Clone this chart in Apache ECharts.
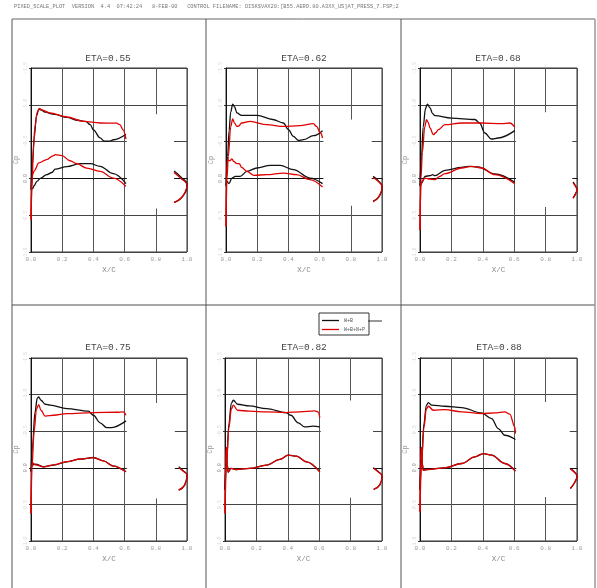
<!DOCTYPE html>
<html><head><meta charset="utf-8">
<script src="https://cdn.jsdelivr.net/npm/echarts@6/dist/echarts.min.js"></script>
<style>html,body{margin:0;padding:0;background:#fff}#c{width:597px;height:588px}</style>
</head><body><div id="c"></div><script>
// ---------- data ----------
const etaTitles = ['ETA=0.55','ETA=0.62','ETA=0.68','ETA=0.75','ETA=0.82','ETA=0.88'];
const seriesNames = ['W+B','W+B+N+P'];
const xTickLabels = ['0.0','0.2','0.4','0.6','0.8','1.0'];
const yTickValues = [-1.5,-1.0,-0.5,0.0,0.5,1.0];

// ETA=0.55
const e055_WB_upper = [[0,0.15],[0.01,-0.2],[0.02,-0.55],[0.035,-0.85],[0.05,-0.94],[0.065,-0.93],[0.09,-0.9],[0.15,-0.87],[0.23,-0.83],[0.3,-0.79],[0.35,-0.775],[0.38,-0.73],[0.4,-0.66],[0.443,-0.55],[0.47,-0.505],[0.5,-0.505],[0.53,-0.525],[0.609,-0.6]];
const e055_WB_lower = [[0,0.15],[0.01,0.14],[0.02,0.1],[0.038,0.04],[0.06,0.0],[0.1,-0.05],[0.134,-0.08],[0.155,-0.125],[0.23,-0.16],[0.315,-0.2],[0.38,-0.2],[0.443,-0.164],[0.528,-0.064],[0.609,0.07]];
const e055_WB_te = [[0.917,-0.1],[0.96,-0.02],[1.0,0.085],[0.97,0.25],[0.917,0.325]];
const e055_WBNP_upper = [[0,0.56],[0.008,0.0],[0.015,-0.4],[0.025,-0.7],[0.04,-0.9],[0.055,-0.95],[0.07,-0.93],[0.12,-0.89],[0.23,-0.834],[0.336,-0.775],[0.443,-0.753],[0.549,-0.75],[0.57,-0.73],[0.59,-0.66],[0.609,-0.535]];
const e055_WBNP_lower = [[0,0.56],[0.005,0.1],[0.01,-0.05],[0.02,-0.1],[0.05,-0.21],[0.1,-0.255],[0.145,-0.31],[0.155,-0.322],[0.198,-0.31],[0.25,-0.24],[0.294,-0.2],[0.357,-0.14],[0.443,-0.096],[0.528,-0.005],[0.609,0.108]];
const e055_WBNP_te = [[0.917,-0.08],[0.96,0.0],[1.0,0.09],[0.985,0.2],[0.96,0.27],[0.917,0.33]];

// ETA=0.62
const e062_WB_upper = [[0,0.1],[0.01,-0.3],[0.02,-0.65],[0.03,-0.9],[0.043,-1.01],[0.055,-0.97],[0.07,-0.89],[0.1,-0.855],[0.2,-0.857],[0.3,-0.8],[0.368,-0.753],[0.4,-0.662],[0.432,-0.571],[0.464,-0.517],[0.496,-0.526],[0.56,-0.58],[0.619,-0.649]];
const e062_WB_lower = [[0,0.1],[0.006,0.04],[0.019,0.071],[0.038,-0.005],[0.06,-0.028],[0.091,-0.028],[0.134,-0.096],[0.198,-0.141],[0.283,-0.177],[0.347,-0.177],[0.432,-0.119],[0.538,-0.005],[0.619,0.071]];
const e062_WB_te = [[0.943,-0.028],[0.975,0.03],[1.0,0.108],[0.98,0.25],[0.943,0.31]];
const e062_WBNP_upper = [[0,0.65],[0.006,0.0],[0.015,-0.3],[0.03,-0.7],[0.043,-0.807],[0.055,-0.75],[0.07,-0.707],[0.08,-0.71],[0.1,-0.753],[0.155,-0.775],[0.262,-0.73],[0.368,-0.707],[0.474,-0.716],[0.56,-0.744],[0.58,-0.707],[0.606,-0.617],[0.619,-0.549]];
const e062_WBNP_lower = [[0,0.65],[0.004,-0.1],[0.01,-0.25],[0.025,-0.24],[0.038,-0.264],[0.049,-0.232],[0.07,-0.2],[0.085,-0.2],[0.1,-0.15],[0.134,-0.096],[0.177,-0.042],[0.262,-0.05],[0.368,-0.073],[0.453,-0.05],[0.538,0.017],[0.619,0.117]];
const e062_WBNP_te = [[0.943,-0.01],[0.975,0.04],[1.0,0.115],[0.985,0.23],[0.943,0.32]];

// ETA=0.68
const e068_WB_upper = [[0,0.1],[0.01,-0.3],[0.02,-0.7],[0.035,-0.95],[0.047,-1.01],[0.064,-0.957],[0.08,-0.88],[0.095,-0.852],[0.2,-0.82],[0.35,-0.8],[0.38,-0.753],[0.413,-0.617],[0.455,-0.535],[0.498,-0.549],[0.604,-0.649]];
const e068_WB_lower = [[0,0.1],[0.011,0.062],[0.032,-0.028],[0.064,-0.037],[0.08,-0.05],[0.095,-0.037],[0.159,-0.11],[0.265,-0.15],[0.307,-0.164],[0.37,-0.155],[0.477,-0.06],[0.604,0.053]];
const e068_WB_te = [[0.975,0.049],[0.99,0.1],[1.0,0.153],[0.99,0.21],[0.975,0.266]];
const e068_WBNP_upper = [[0,0.7],[0.006,0.0],[0.015,-0.35],[0.03,-0.7],[0.042,-0.798],[0.052,-0.76],[0.064,-0.685],[0.085,-0.594],[0.1,-0.62],[0.117,-0.662],[0.159,-0.73],[0.265,-0.753],[0.39,-0.753],[0.519,-0.744],[0.572,-0.753],[0.604,-0.698]];
const e068_WBNP_lower = [[0,0.7],[0.005,0.1],[0.015,0.03],[0.032,-0.005],[0.064,0.008],[0.095,0.017],[0.12,-0.02],[0.159,-0.064],[0.265,-0.141],[0.328,-0.164],[0.392,-0.141],[0.477,-0.05],[0.604,0.071]];
const e068_WBNP_te = [[0.975,0.06],[0.99,0.105],[1.0,0.155],[0.99,0.215],[0.975,0.27]];

// ETA=0.75
const e075_WB_upper = [[0,0.05],[0.01,-0.3],[0.025,-0.75],[0.04,-0.95],[0.049,-0.968],[0.064,-0.923],[0.091,-0.868],[0.123,-0.855],[0.23,-0.809],[0.368,-0.773],[0.4,-0.718],[0.443,-0.614],[0.485,-0.55],[0.517,-0.55],[0.609,-0.641]];
const e075_WB_lower = [[0,0.05],[0.006,-0.036],[0.028,-0.05],[0.081,-0.014],[0.145,-0.036],[0.23,-0.082],[0.315,-0.118],[0.4,-0.141],[0.464,-0.095],[0.528,-0.023],[0.609,0.055]];
const e075_WB_te = [[0.947,-0.014],[0.975,0.04],[1.0,0.1],[0.985,0.236],[0.947,0.305]];
const e075_WBNP_upper = [[0,0.623],[0.006,0.0],[0.02,-0.5],[0.035,-0.8],[0.049,-0.864],[0.064,-0.786],[0.091,-0.705],[0.145,-0.718],[0.23,-0.741],[0.4,-0.755],[0.549,-0.759],[0.591,-0.764],[0.609,-0.718]];
const e075_WBNP_lower = [[0,0.623],[0.004,0.0],[0.01,-0.068],[0.028,-0.04],[0.081,-0.01],[0.145,-0.04],[0.23,-0.085],[0.315,-0.12],[0.4,-0.14],[0.464,-0.095],[0.528,-0.023],[0.609,0.055]];
const e075_WBNP_te = [[0.947,0.0],[0.975,0.045],[1.0,0.1],[0.985,0.236],[0.947,0.305]];

// ETA=0.82
const e082_WB_upper = [[0,0.3],[0.01,-0.1],[0.025,-0.6],[0.04,-0.88],[0.053,-0.923],[0.08,-0.868],[0.155,-0.845],[0.265,-0.809],[0.388,-0.755],[0.42,-0.718],[0.466,-0.614],[0.508,-0.559],[0.561,-0.568],[0.604,-0.559]];
const e082_WB_lower = [[0,0.3],[0.004,-0.05],[0.008,-0.28],[0.014,-0.05],[0.02,0.06],[0.038,0.009],[0.07,0.023],[0.155,0.009],[0.265,-0.036],[0.35,-0.114],[0.403,-0.173],[0.455,-0.159],[0.519,-0.082],[0.604,0.055]];
const e082_WB_te = [[0.943,0.0],[0.975,0.05],[1.0,0.114],[0.985,0.236],[0.947,0.295]];
const e082_WBNP_upper = [[0,0.623],[0.008,0.0],[0.025,-0.55],[0.04,-0.8],[0.053,-0.855],[0.08,-0.786],[0.155,-0.773],[0.265,-0.764],[0.388,-0.755],[0.477,-0.764],[0.572,-0.777],[0.593,-0.764],[0.604,-0.686]];
const e082_WBNP_lower = [[0,0.623],[0.004,-0.05],[0.008,-0.28],[0.014,-0.05],[0.02,0.06],[0.038,0.009],[0.07,0.023],[0.155,0.009],[0.265,-0.036],[0.35,-0.114],[0.403,-0.173],[0.455,-0.159],[0.519,-0.082],[0.604,0.055]];
const e082_WBNP_te = [[0.947,0.005],[0.975,0.055],[1.0,0.114],[0.985,0.236],[0.947,0.295]];

// ETA=0.88
const e088_WB_upper = [[0,0.3],[0.01,-0.1],[0.025,-0.6],[0.04,-0.85],[0.053,-0.891],[0.074,-0.855],[0.159,-0.841],[0.265,-0.823],[0.392,-0.75],[0.456,-0.673],[0.498,-0.536],[0.54,-0.445],[0.608,-0.386]];
const e088_WB_lower = [[0,0.3],[0.004,-0.1],[0.008,-0.28],[0.015,-0.05],[0.021,0.036],[0.042,0.023],[0.159,0.0],[0.265,-0.059],[0.35,-0.15],[0.403,-0.195],[0.456,-0.173],[0.54,-0.059],[0.608,0.045]];
const e088_WB_te = [[0.958,0.009],[0.985,0.06],[1.0,0.114],[0.985,0.2],[0.958,0.282]];
const e088_WBNP_upper = [[0,0.6],[0.008,0.0],[0.025,-0.55],[0.04,-0.8],[0.053,-0.841],[0.085,-0.786],[0.159,-0.795],[0.265,-0.764],[0.392,-0.741],[0.477,-0.75],[0.54,-0.764],[0.572,-0.732],[0.604,-0.559],[0.608,-0.468]];
const e088_WBNP_lower = [[0,0.6],[0.004,-0.1],[0.008,-0.28],[0.015,-0.05],[0.021,0.036],[0.042,0.023],[0.159,0.0],[0.265,-0.059],[0.35,-0.15],[0.403,-0.195],[0.456,-0.173],[0.54,-0.059],[0.608,0.045]];
const e088_WBNP_te = [[0.958,0.015],[0.985,0.065],[1.0,0.114],[0.985,0.2],[0.958,0.282]];

// blank (unplotted) region in each panel: [x0, y0, x1, y1]
const blankRegions = [
  [0.614,-0.87,0.917,0.41],
  [0.624,-0.80,0.934,0.37],
  [0.611,-0.90,0.970,0.39],
  [0.614,-0.885,0.922,0.42],
  [0.610,-0.92,0.943,0.41],
  [0.613,-0.90,0.954,0.40]
];

const panelData = [
  [[e055_WB_upper,e055_WB_lower,e055_WB_te],[e055_WBNP_upper,e055_WBNP_lower,e055_WBNP_te]],
  [[e062_WB_upper,e062_WB_lower,e062_WB_te],[e062_WBNP_upper,e062_WBNP_lower,e062_WBNP_te]],
  [[e068_WB_upper,e068_WB_lower,e068_WB_te],[e068_WBNP_upper,e068_WBNP_lower,e068_WBNP_te]],
  [[e075_WB_upper,e075_WB_lower,e075_WB_te],[e075_WBNP_upper,e075_WBNP_lower,e075_WBNP_te]],
  [[e082_WB_upper,e082_WB_lower,e082_WB_te],[e082_WBNP_upper,e082_WBNP_lower,e082_WBNP_te]],
  [[e088_WB_upper,e088_WB_lower,e088_WB_te],[e088_WBNP_upper,e088_WBNP_lower,e088_WBNP_te]]
];

// ---------- layout ----------
const MONO = '"Liberation Mono","DejaVu Sans Mono",monospace';
const layout = [
  {left:31, top:68, w:156, h:184, tx:108, ty:58},
  {left:226, top:68, w:156, h:184, tx:304, ty:58},
  {left:420, top:68, w:157, h:184, tx:498, ty:58},
  {left:31, top:358, w:156, h:183, tx:108, ty:347},
  {left:225, top:358, w:157, h:183, tx:304, ty:347},
  {left:420, top:358, w:157, h:183, tx:499, ty:347}
];
const colors = ['#111111','#e00000'];

const grids = [], xAxes = [], yAxes = [], series = [], graphics = [];
layout.forEach((L, i) => {
  grids.push({left:L.left, top:L.top, width:L.w, height:L.h, show:true, borderColor:'#333', borderWidth:1, backgroundColor:'transparent'});
  xAxes.push({
    type:'value', gridIndex:i, min:0, max:1, interval:0.2,
    name:'X/C', nameLocation:'middle', nameGap:14,
    nameTextStyle:{fontSize:7.5, color:'#888', fontFamily:MONO},
    axisLine:{show:true, lineStyle:{color:'#111', width:1}},
    axisTick:{show:true, length:2, lineStyle:{color:'#333'}},
    axisLabel:{fontSize:6, color:'#999', fontFamily:MONO, margin:4,
      formatter:(v)=> xTickLabels[Math.round(v/0.2)]},
    splitLine:{show:true, lineStyle:{color:'#555', width:1}}
  });
  yAxes.push({
    type:'value', gridIndex:i, min:yTickValues[0], max:yTickValues[yTickValues.length-1], interval:0.5, inverse:true,
    name:'Cp', nameLocation:'middle', nameGap:11,
    nameTextStyle:{fontSize:7, color:'#999', fontFamily:MONO},
    axisLine:{show:true, lineStyle:{color:'#111', width:1}},
    axisTick:{show:true, length:2, lineStyle:{color:'#333'}},
    axisLabel:{fontSize:5, rotate:90, margin:3, fontFamily:MONO,
      color:(v)=> (Math.abs(v)<1e-9 ? '#999' : '#d8d8d8'),
      formatter:(v)=> v.toFixed(1)},
    splitLine:{show:true, lineStyle:{color:'#444', width:1}}
  });
  const b = blankRegions[i];
  panelData[i].forEach((parts, c) => {
    parts.forEach((arr, k) => {
      const s = {
        type:'line', name:seriesNames[c], xAxisIndex:i, yAxisIndex:i,
        data:arr, showSymbol:false, symbol:'none', animation:false, silent:true,
        smooth: k<2 ? 0.35 : 0.5, smoothMonotone: k<2 ? 'x' : undefined,
        lineStyle:{color:colors[c], width:1.3}, itemStyle:{color:colors[c]},
        z: 3 + c
      };
      if (c===0 && k===0) {
        s.markArea = {silent:true, itemStyle:{color:'#ffffff', opacity:1},
          data:[[{coord:[b[0],b[1]]},{coord:[b[2],b[3]]}]]};
      }
      series.push(s);
    });
  });
  graphics.push({type:'text', x:L.tx, y:L.ty, z:10,
    style:{text:etaTitles[i], font:'9.5px '+MONO, fill:'#444', align:'center', verticalAlign:'middle', textAlign:'center', textVerticalAlign:'middle'}});
});

// page frame lines
const frame = [
  [12,19,595,19,'#666',1],
  [12,305,595,305,'#888',1.5],
  [12,19,12,588,'#555',1],
  [206,19,206,588,'#555',1],
  [401,19,401,588,'#555',1],
  [595,19,595,588,'#999',1.5]
];
frame.forEach(f => graphics.push({type:'line', z:10, shape:{x1:f[0],y1:f[1],x2:f[2],y2:f[3]}, style:{stroke:f[4], lineWidth:f[5]}}));
graphics.push({type:'text', x:14, y:7, z:10,
  style:{text:'PIXED_SCALE_PLOT  VERSION  4.4  07:42:24   8-FEB-00   CONTROL FILENAME: DISK$VAX20:[B55.AERO.80.A3XX_US]AT_PRESS_7.FSP;2',
    font:'5.35px '+MONO, fill:'#777', verticalAlign:'middle', textVerticalAlign:'middle'}});
// legend connector line
graphics.push({type:'line', z:10, shape:{x1:368,y1:321,x2:382,y2:321}, style:{stroke:'#333', lineWidth:1}});

const chart = echarts.init(document.getElementById('c'), null, {renderer:'canvas'});
chart.setOption({
  animation:false,
  backgroundColor:'#fff',
  grid:grids, xAxis:xAxes, yAxis:yAxes, series:series,
  legend:{data:seriesNames.map(n => ({name:n, icon:'rect'})), left:319, top:313, orient:'vertical', itemWidth:17, itemHeight:1.3, itemGap:4,
    padding:[5,4,3,3], borderColor:'#333', borderWidth:1, selectedMode:false,
    textStyle:{fontSize:5, color:'#555', fontFamily:MONO}},
  graphic:graphics
});
</script></body></html>
